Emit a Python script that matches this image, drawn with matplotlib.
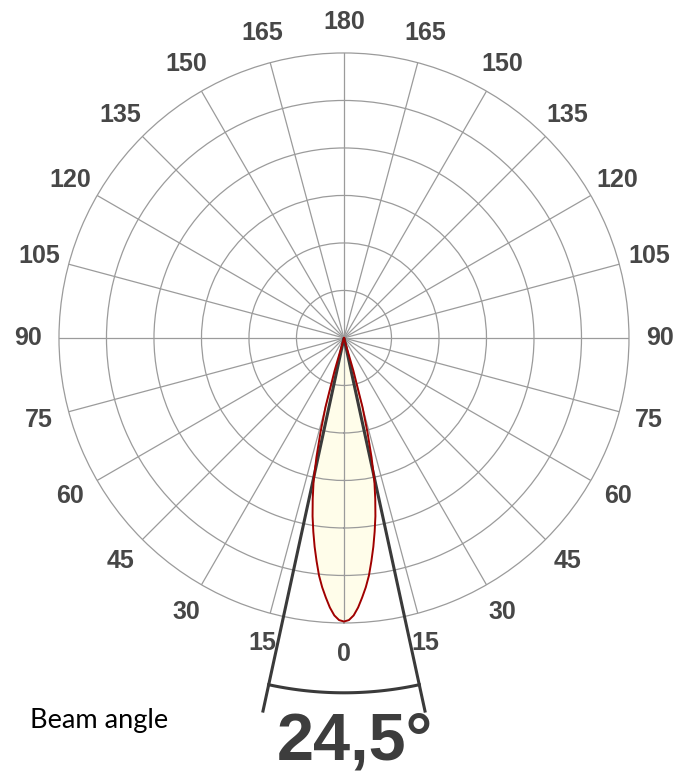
import numpy as np
import matplotlib
matplotlib.use("Agg")
import matplotlib.pyplot as plt

# ---- data ----
half_angles = [0, 1, 2, 3, 4, 5, 6, 7, 8, 9, 10, 11, 12, 13, 14, 15, 16, 16.5]   # degrees from beam axis
rel_intensity = [0.995, 0.99, 0.974, 0.947, 0.913, 0.878, 0.838, 0.789, 0.74, 0.688,
                 0.635, 0.575, 0.513, 0.43, 0.34, 0.25, 0.12, 0.0]
tick_angles = list(range(0, 360, 15))
tick_labels = [str(a if a <= 180 else 360 - a) for a in tick_angles]
beam_angle = 24.5
n_rings = 6

grid_col = '#9b9b9b'
lab_col = '#474747'

fig = plt.figure(figsize=(6.89, 7.71), dpi=100)
ax = fig.add_axes([0.0856, 0.1920, 0.8273, 0.7393], projection='polar')
ax.set_theta_zero_location('S')

# lobe (mirror)
ha = np.deg2rad(np.array(half_angles))
ri = np.array(rel_intensity) * n_rings
theta = np.concatenate([-ha[::-1], ha[1:]])
r = np.concatenate([ri[::-1], ri[1:]])
ax.fill(theta, r, color='#fffdea', zorder=1)
ax.plot(theta, r, color='#a00000', lw=1.4, zorder=4, solid_joinstyle='round')

# beam angle lines and arc
hb = np.deg2rad(beam_angle / 2)
line_len = 8.07
arc_r = 7.47
for s in (-1, 1):
    ax.plot([s * hb, s * hb], [0, line_len], color='#3a3a3a', lw=2.2, zorder=3,
             clip_on=False, solid_capstyle='butt')
arc_t = np.linspace(-hb, hb, 60)
ax.plot(arc_t, np.full_like(arc_t, arc_r), color='#3a3a3a', lw=2.2, zorder=3, clip_on=False)

ax.set_ylim(0, n_rings)
ax.set_yticks(range(1, n_rings))
ax.set_yticklabels([])
ax.set_xticks(np.deg2rad(tick_angles))
ax.set_xticklabels([])
ax.tick_params(length=0)
ax.grid(True, color=grid_col, linewidth=0.9)
ax.spines['polar'].set_color(grid_col)
ax.spines['polar'].set_linewidth(0.9)

for a, lbl in zip(tick_angles, tick_labels):
    ax.text(np.deg2rad(a), 6.65, lbl, ha='center', va='center', fontsize=18,
            fontweight='bold', color=lab_col, family='Liberation Sans', clip_on=False)

fig.text(277 / 689, 11 / 771, f"{beam_angle:.1f}".replace('.', ',') + "°",
         ha='left', va='baseline', fontsize=48, fontweight='bold', color='#3d3d3d',
         family='Liberation Sans')
fig.text(30 / 689, (771 - 728) / 771, "Beam angle", ha='left', va='baseline',
         fontsize=19.5, color='black', family='Lato', fontweight='normal')

fig.savefig('out.png', dpi=100)
